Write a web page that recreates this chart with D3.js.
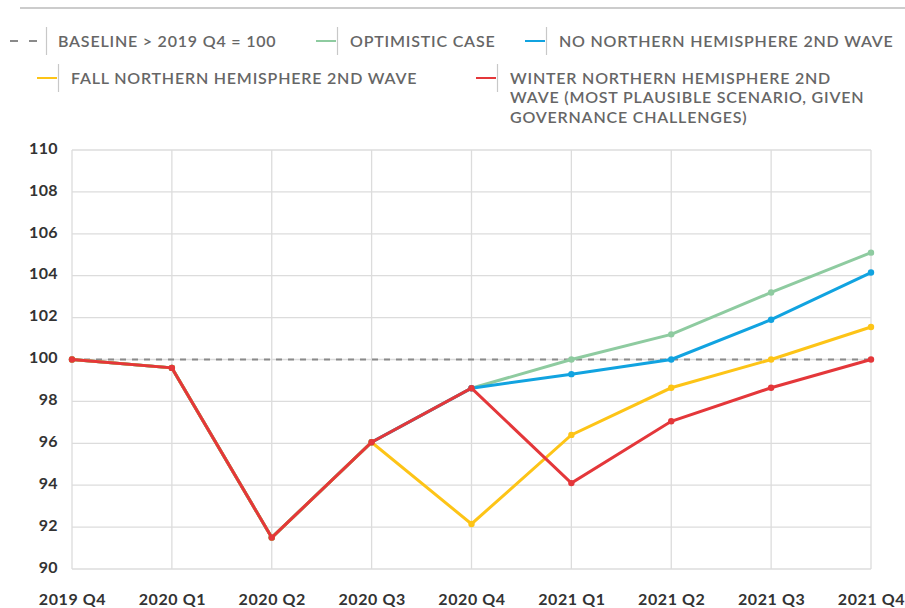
<!DOCTYPE html>
<html>
<head>
<meta charset="utf-8">
<script src="https://cdn.jsdelivr.net/npm/d3@7"></script>
<style>
  body { margin: 0; background: #fff; }
  text { font-family: Lato, "Open Sans", sans-serif; }
</style>
</head>
<body>
<div class="chart"></div>
<script>
var quarters = ['2019 Q4', '2020 Q1', '2020 Q2', '2020 Q3', '2020 Q4', '2021 Q1', '2021 Q2', '2021 Q3', '2021 Q4'];
var yTicks = [90, 92, 94, 96, 98, 100, 102, 104, 106, 108, 110];

var baseline = [100, 100, 100, 100, 100, 100, 100, 100, 100];
var optimistic = [100, 99.6, 91.5, 96.05, 98.63, 100, 101.2, 103.2, 105.1];
var noSecondWave = [100, 99.6, 91.5, 96.05, 98.63, 99.3, 100, 101.9, 104.15];
var fallWave = [100, 99.6, 91.5, 96.05, 92.15, 96.4, 98.65, 100, 101.55];
var winterWave = [100, 99.6, 91.5, 96.05, 98.63, 94.1, 97.05, 98.65, 100];

var series = [
    { name: 'OPTIMISTIC CASE', values: optimistic, color: '#8ecba0' },
    { name: 'NO NORTHERN HEMISPHERE 2ND WAVE', values: noSecondWave, color: '#11a3e0' },
    { name: 'FALL NORTHERN HEMISPHERE 2ND WAVE', values: fallWave, color: '#fdc417' },
    { name: 'WINTER NORTHERN HEMISPHERE 2ND WAVE (MOST PLAUSIBLE SCENARIO, GIVEN GOVERNANCE CHALLENGES)', values: winterWave, color: '#e4373a' }
];

var W = 905, H = 608;
var margin = { top: 150, right: 34, bottom: 39, left: 72 };
var width = W - margin.left - margin.right;
var height = H - margin.top - margin.bottom;

var svg = d3.select('.chart')
    .append('svg')
    .attr('width', W)
    .attr('height', H);

// top rule
svg.append('line')
    .attr('x1', 20).attr('x2', W)
    .attr('y1', 8).attr('y2', 8)
    .style('stroke', '#9a9a9a')
    .style('stroke-width', 1.2);

// legend
var legendItems = [
    { label: ['BASELINE > 2019 Q4 = 100'], x: 10, y: 41, dashed: true, color: '#8a8a8a' },
    { label: ['OPTIMISTIC CASE'], x: 316, y: 41, color: series[0].color },
    { label: ['NO NORTHERN HEMISPHERE 2ND WAVE'], x: 525, y: 41, color: series[1].color },
    { label: ['FALL NORTHERN HEMISPHERE 2ND WAVE'], x: 37, y: 78, color: series[2].color },
    { label: ['WINTER NORTHERN HEMISPHERE 2ND', 'WAVE (MOST PLAUSIBLE SCENARIO, GIVEN', 'GOVERNANCE CHALLENGES)'], x: 476, y: 78, color: series[3].color }
];

var leg = svg.selectAll('.legend')
    .data(legendItems)
    .enter()
    .append('g')
    .attr('class', 'legend')
    .attr('transform', d => `translate(${d.x},${d.y})`);

leg.append('line')
    .attr('x1', 0)
    .attr('x2', d => d.dashed ? 28 : 20)
    .attr('y1', 0).attr('y2', 0)
    .style('stroke', d => d.color)
    .style('stroke-width', 2)
    .style('stroke-dasharray', d => d.dashed ? '8,11' : null);

leg.append('line')
    .attr('x1', d => d.dashed ? 36.5 : 21.5)
    .attr('x2', d => d.dashed ? 36.5 : 21.5)
    .attr('y1', -14).attr('y2', 14)
    .style('stroke', '#c8c8c8')
    .style('stroke-width', 1.2);

leg.append('text')
    .style('font-size', '16px')
    .style('font-weight', 600)
    .style('letter-spacing', '0.8px')
    .style('fill', '#666')
    .selectAll('tspan')
    .data(d => d.label.map((t, i) => ({ t: t, i: i, x: d.dashed ? 48 : 34 })))
    .enter()
    .append('tspan')
    .attr('x', d => d.x)
    .attr('y', d => d.i * 19.5)
    .attr('dy', '0.36em')
    .text(d => d.t);

var g = svg.append('g')
    .attr('transform', `translate(${margin.left},${margin.top})`);

var xScale = d3.scalePoint()
    .domain(quarters)
    .range([0, width]);

var yScale = d3.scaleLinear()
    .domain([90, 110])
    .range([height, 0]);

// grid
g.append('g')
    .selectAll('line')
    .data(yTicks)
    .enter()
    .append('line')
    .attr('x1', 0).attr('x2', width)
    .attr('y1', d => yScale(d)).attr('y2', d => yScale(d))
    .style('stroke', '#dcdcdc')
    .style('stroke-width', 1.3);

g.append('g')
    .selectAll('line')
    .data(quarters)
    .enter()
    .append('line')
    .attr('x1', d => xScale(d)).attr('x2', d => xScale(d))
    .attr('y1', 0).attr('y2', height)
    .style('stroke', '#dcdcdc')
    .style('stroke-width', 1.3);

// axes
var yAxis = d3.axisLeft(yScale).tickValues(yTicks).tickSize(0).tickPadding(14);
g.append('g')
    .call(yAxis)
    .call(a => a.select('.domain').remove())
    .selectAll('text')
    .style('font-size', '16px')
    .style('font-weight', 700)
    .style('letter-spacing', '0.4px')
    .style('fill', '#333')
    .attr('dy', '0.2em');

var xAxis = d3.axisBottom(xScale).tickSize(0).tickPadding(25);
g.append('g')
    .attr('transform', `translate(0,${height})`)
    .call(xAxis)
    .call(a => a.select('.domain').remove())
    .selectAll('text')
    .style('font-size', '16px')
    .style('font-weight', 700)
    .style('letter-spacing', '0.6px')
    .style('fill', '#333');

var line = d3.line()
    .x((d, i) => xScale(quarters[i]))
    .y(d => yScale(d));

// baseline
g.append('path')
    .datum(baseline)
    .attr('d', line)
    .style('fill', 'none')
    .style('stroke', '#8a8a8a')
    .style('stroke-width', 2)
    .style('stroke-dasharray', '6,6');

series.forEach(s => {
    g.append('path')
        .datum(s.values)
        .attr('d', line)
        .style('fill', 'none')
        .style('stroke', s.color)
        .style('stroke-width', 3);

    g.append('g')
        .selectAll('circle')
        .data(s.values)
        .enter()
        .append('circle')
        .attr('cx', (d, i) => xScale(quarters[i]))
        .attr('cy', d => yScale(d))
        .attr('r', 3.2)
        .style('fill', s.color);
});
</script>
</body>
</html>
